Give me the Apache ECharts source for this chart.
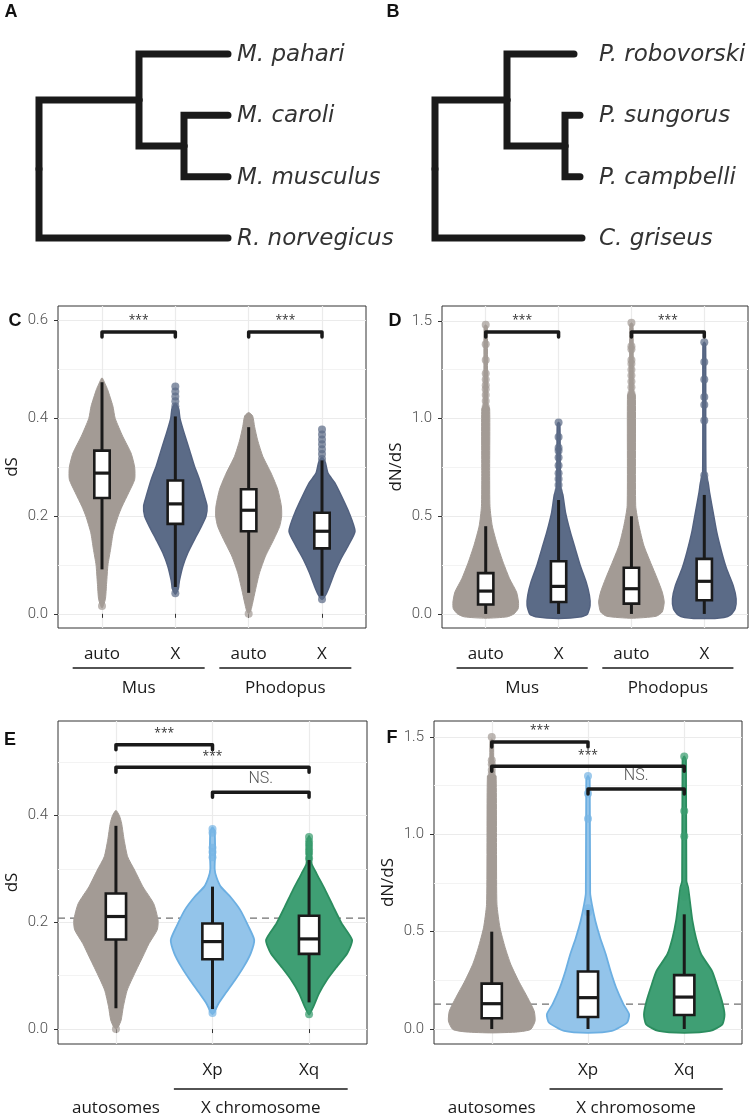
<!DOCTYPE html>
<html>
<head>
<meta charset="utf-8">
<script src="https://cdn.jsdelivr.net/npm/echarts@6/dist/echarts.min.js"></script>
<style>
  html, body { margin: 0; padding: 0; background: #fff; }
  #chart { width: 750px; height: 1119px; }
</style>
</head>
<body>
<div id="chart"></div>
<script>
// ---------- data ----------
// trees: relative branch lengths
const treeMus = { len: 0, children: [
  { len: 100, children: [
    { name: 'M. pahari', len: 89 },
    { len: 45, children: [{ name: 'M. caroli', len: 44 }, { name: 'M. musculus', len: 44 }] }
  ] },
  { name: 'R. norvegicus', len: 189 }
] }
const treePhodopus = { len: 0, children: [
  { len: 72, children: [
    { name: 'P. robovorski', len: 67 },
    { len: 58, children: [{ name: 'P. sungorus', len: 15 }, { name: 'P. campbelli', len: 15 }] }
  ] },
  { name: 'C. griseus', len: 147 }
] }

// panels C / D : species x chromosome
const catCD = ['auto', 'X', 'auto', 'X']
const groupsCD = [['Mus', 1, 2], ['Phodopus', 3, 4]]
// panels E / F : autosomes vs X arms
const catEF = ['', 'Xp', 'Xq']
const groupsEF = [['autosomes', 1, 1], ['X chromosome', 2, 3]]

const yTicksC = [0, 0.2, 0.4, 0.6]
const yTicksD = [0, 0.5, 1.0, 1.5]
const yTicksE = [0, 0.2, 0.4]
const yTicksF = [0, 0.5, 1.0, 1.5]

// violin profiles: [value, relative density]
const violinC = [
  [[0.483, 0], [0.47, 0.1], [0.459, 0.17], [0.425, 0.33], [0.40, 0.40], [0.363, 0.63], [0.329, 0.88], [0.30, 0.99], [0.275, 0.99], [0.248, 0.81], [0.22, 0.61], [0.20, 0.49], [0.166, 0.34], [0.132, 0.26], [0.10, 0.18], [0.063, 0.14], [0.029, 0.1], [0.012, 0]],
  [[0.43, 0], [0.42, 0.1], [0.40, 0.14], [0.369, 0.27], [0.335, 0.43], [0.302, 0.58], [0.275, 0.73], [0.241, 0.88], [0.221, 0.96], [0.20, 0.93], [0.179, 0.79], [0.152, 0.58], [0.125, 0.38], [0.098, 0.23], [0.07, 0.13], [0.05, 0.08], [0.04, 0]],
  [[0.412, 0], [0.405, 0.12], [0.383, 0.18], [0.356, 0.27], [0.322, 0.43], [0.288, 0.68], [0.255, 0.88], [0.221, 0.99], [0.20, 1.0], [0.179, 0.94], [0.152, 0.76], [0.118, 0.51], [0.084, 0.33], [0.05, 0.21], [0.022, 0.12], [0.008, 0.07], [0.0, 0]],
  [[0.32, 0], [0.31, 0.1], [0.288, 0.18], [0.268, 0.39], [0.241, 0.59], [0.207, 0.82], [0.169, 1.0], [0.139, 0.79], [0.111, 0.56], [0.084, 0.38], [0.057, 0.23], [0.04, 0.12], [0.03, 0]]
]
const violinD = [
  [[1.48, 0], [1.47, 0.05], [1.07, 0.06], [1.05, 0.12], [0.72, 0.12], [0.55, 0.13], [0.45, 0.20], [0.35, 0.36], [0.265, 0.53], [0.18, 0.73], [0.112, 0.94], [0.061, 1.0], [0.027, 0.99], [0.0, 0.86], [-0.015, 0.65], [-0.022, 0]],
  [[0.98, 0], [0.97, 0.04], [0.65, 0.06], [0.61, 0.13], [0.52, 0.21], [0.418, 0.36], [0.333, 0.51], [0.248, 0.66], [0.163, 0.84], [0.095, 0.94], [0.044, 0.96], [0.0, 0.88], [-0.015, 0.7], [-0.024, 0]],
  [[1.49, 0], [1.48, 0.05], [1.14, 0.06], [1.12, 0.12], [0.554, 0.13], [0.452, 0.23], [0.35, 0.38], [0.265, 0.58], [0.18, 0.79], [0.112, 0.94], [0.061, 1.0], [0.01, 0.94], [-0.012, 0.75], [-0.022, 0]],
  [[1.39, 0], [1.38, 0.04], [0.72, 0.05], [0.67, 0.12], [0.622, 0.16], [0.52, 0.27], [0.418, 0.38], [0.316, 0.53], [0.231, 0.68], [0.146, 0.88], [0.078, 0.97], [0.027, 0.94], [-0.005, 0.8], [-0.018, 0.6], [-0.024, 0]]
]
const violinE = [
  [[0.41, 0], [0.40, 0.08], [0.386, 0.13], [0.354, 0.19], [0.323, 0.27], [0.298, 0.43], [0.267, 0.62], [0.235, 0.87], [0.204, 0.97], [0.186, 0.95], [0.16, 0.76], [0.136, 0.62], [0.104, 0.43], [0.073, 0.26], [0.042, 0.17], [0.017, 0.12], [0.005, 0.06], [0.0, 0]],
  [[0.378, 0], [0.37, 0.05], [0.33, 0.06], [0.30, 0.05], [0.285, 0.09], [0.267, 0.19], [0.248, 0.41], [0.223, 0.64], [0.192, 0.83], [0.167, 0.96], [0.142, 0.88], [0.117, 0.72], [0.092, 0.52], [0.067, 0.30], [0.048, 0.14], [0.035, 0.06], [0.028, 0]],
  [[0.362, 0], [0.35, 0.05], [0.31, 0.06], [0.292, 0.17], [0.261, 0.37], [0.229, 0.56], [0.198, 0.75], [0.167, 0.99], [0.142, 0.88], [0.117, 0.64], [0.092, 0.41], [0.067, 0.23], [0.042, 0.10], [0.027, 0]]
]
const violinF = [
  [[1.49, 0], [1.48, 0.04], [1.31, 0.05], [1.30, 0.1], [0.897, 0.11], [0.64, 0.12], [0.52, 0.19], [0.418, 0.31], [0.332, 0.44], [0.247, 0.62], [0.161, 0.83], [0.092, 0.98], [0.041, 1.0], [-0.002, 0.9], [-0.015, 0.6], [-0.02, 0]],
  [[1.30, 0], [1.28, 0.04], [0.70, 0.05], [0.64, 0.09], [0.555, 0.17], [0.469, 0.28], [0.384, 0.41], [0.298, 0.52], [0.212, 0.65], [0.127, 0.82], [0.075, 0.95], [0.033, 0.9], [-0.01, 0.55], [-0.02, 0]],
  [[1.40, 0], [1.38, 0.04], [0.76, 0.05], [0.726, 0.09], [0.64, 0.14], [0.555, 0.19], [0.469, 0.27], [0.384, 0.39], [0.298, 0.64], [0.229, 0.75], [0.144, 0.87], [0.075, 0.93], [0.024, 0.88], [-0.01, 0.6], [-0.02, 0]]
]

// boxes: [whisker low, q1, median, q3, whisker high]
const boxC = [[0.091, 0.237, 0.288, 0.334, 0.474], [0.055, 0.184, 0.225, 0.273, 0.404], [0.043, 0.169, 0.212, 0.255, 0.382], [0.037, 0.134, 0.169, 0.207, 0.314]]
const boxD = [[0, 0.048, 0.117, 0.209, 0.449], [0, 0.061, 0.141, 0.27, 0.583], [0, 0.053, 0.129, 0.236, 0.5], [0, 0.07, 0.167, 0.282, 0.609]]
const boxE = [[0.039, 0.168, 0.211, 0.254, 0.381], [0.0375, 0.131, 0.164, 0.198, 0.267], [0.05, 0.141, 0.169, 0.2125, 0.317]]
const boxF = [[0, 0.055, 0.13, 0.233, 0.5], [0, 0.062, 0.161, 0.295, 0.611], [0, 0.072, 0.164, 0.277, 0.589]]

// separate points in the tails
const dotsC = [[0.016], [0.465, 0.455, 0.445, 0.435, 0.425, 0.415, 0.055, 0.042], [0.0], [0.377, 0.367, 0.357, 0.347, 0.337, 0.327, 0.317, 0.03]]
const dotsD = [
  [1.48, 1.38, 1.30, 1.23, 1.20, 1.17, 1.15, 1.12, 1.09, 1.06],
  [0.98, 0.905, 0.85, 0.835, 0.80, 0.76, 0.72, 0.69, 0.66, 0.63, 0.61],
  [1.49, 1.37, 1.355, 1.30, 1.28, 1.25, 1.22, 1.19, 1.16, 1.13],
  [1.39, 1.29, 1.20, 1.11, 1.07, 0.99, 0.71, 0.69, 0.67, 0.65]
]
const dotsE = [[0.0], [0.375, 0.368, 0.34, 0.332, 0.322, 0.036, 0.03], [0.36, 0.352, 0.345, 0.337, 0.33, 0.32, 0.028]]
const dotsF = [[1.50, 1.38, 1.36, 1.33, 1.31], [1.30, 1.21, 1.08, 0.62, 0.60], [1.40, 1.12, 0.99, 0.72, 0.70, 0.68]]

// significance brackets: [from, to, height, label]
const sigC = [[1, 2, 0.577, '***'], [3, 4, 0.577, '***']]
const sigD = [[1, 2, 1.443, '***'], [3, 4, 1.443, '***']]
const sigE = [[1, 2, 0.533, '***'], [1, 3, 0.491, '***'], [2, 3, 0.444, 'NS.']]
const sigF = [[1, 2, 1.474, '***'], [1, 3, 1.35, '***'], [2, 3, 1.233, 'NS.']]

// dashed reference (autosome median)
const refE = 0.208
const refF = 0.128

// ---------- styles ----------
const INK = '#1a1a1a'
const VIOLIN_HALF = 0.45
const BOX_HALF = 0.105
const palette = {
  gray: { fill: '#a39b95', stroke: '#a39b95', lw: 1, dot: '#a39b95' },
  slate: { fill: '#5b6b87', stroke: '#536280', lw: 1.5, dot: '#5b6b87' },
  blue: { fill: '#93c4ea', stroke: '#6cafe2', lw: 1.8, dot: '#78b6e5' },
  green: { fill: '#3f9f74', stroke: '#2b8d5f', lw: 1.8, dot: '#3a9c6f' }
}

const panels = [
  { grid: { left: 58, top: 306, width: 308, height: 322 }, y: [-0.029, 0.63], ticks: yTicksC, name: 'dS',
    cats: catCD, groups: groupsCD, colors: ['gray', 'slate', 'gray', 'slate'],
    violins: violinC, boxes: boxC, dots: dotsC, sig: sigC, ref: null, lineOff: 40, textOff: 60 },
  { grid: { left: 442, top: 306, width: 306, height: 322 }, y: [-0.072, 1.576], ticks: yTicksD, name: 'dN/dS',
    cats: catCD, groups: groupsCD, colors: ['gray', 'slate', 'gray', 'slate'],
    violins: violinD, boxes: boxD, dots: dotsD, sig: sigD, ref: null, lineOff: 40, textOff: 60 },
  { grid: { left: 58, top: 721, width: 309, height: 323 }, y: [-0.028, 0.5775], ticks: yTicksE, name: 'dS',
    cats: catEF, groups: groupsEF, colors: ['gray', 'blue', 'green'],
    violins: violinE, boxes: boxE, dots: dotsE, sig: sigE, ref: refE, lineOff: 45, textOff: 64 },
  { grid: { left: 434, top: 721, width: 308, height: 323 }, y: [-0.077, 1.582], ticks: yTicksF, name: 'dN/dS',
    cats: catEF, groups: groupsEF, colors: ['gray', 'blue', 'green'],
    violins: violinF, boxes: boxF, dots: dotsF, sig: sigF, ref: refF, lineOff: 45, textOff: 64 }
]

// ---------- trees ----------
function layoutTree(root) {
  const edges = []
  const leaves = []
  let leafIdx = 0
  function walk(node, x0) {
    const x = x0 + node.len
    if (!node.children) {
      const y = leafIdx++
      leaves.push({ x, y, name: node.name })
      return { x, y }
    }
    const kids = node.children.map(c => walk(c, x))
    const y = (kids[0].y + kids[kids.length - 1].y) / 2
    kids.forEach(k => edges.push([x, y, k.x, k.y]))
    return { x, y }
  }
  walk(root, 0)
  return { edges, leaves }
}

const grids = []
const xAxes = []
const yAxes = []
const series = []

function addTree(tree, rect, labelGap) {
  const idx = grids.length
  const { edges, leaves } = layoutTree(tree)
  const maxX = Math.max(...leaves.map(l => l.x))
  grids.push(Object.assign({ show: false }, rect))
  xAxes.push({ type: 'value', gridIndex: idx, min: 0, max: maxX, show: false })
  yAxes.push({ type: 'value', gridIndex: idx, min: 0, max: leaves.length - 1, inverse: true, show: false })
  series.push({
    type: 'custom', xAxisIndex: idx, yAxisIndex: idx, data: edges, silent: true,
    renderItem: (params, api) => {
      const a = api.coord([api.value(0), api.value(1)])
      const c = api.coord([api.value(2), api.value(3)])
      return {
        type: 'polyline',
        shape: { points: [a, [a[0], c[1]], c] },
        style: { stroke: INK, lineWidth: 7, lineCap: 'round', lineJoin: 'miter', fill: null }
      }
    }
  })
  series.push({
    type: 'custom', xAxisIndex: idx, yAxisIndex: idx, silent: true,
    data: leaves.map(l => [maxX, l.y]),
    renderItem: (params, api) => {
      const p = api.coord([api.value(0), api.value(1)])
      return {
        type: 'text', x: p[0] + labelGap, y: p[1] + 1,
        style: { text: leaves[params.dataIndex].name, fill: '#333', fontSize: 23, fontStyle: 'italic',
          fontFamily: 'DejaVu Sans', align: 'left', verticalAlign: 'middle' }
      }
    }
  })
}

addTree(treeMus, { left: 39, top: 54, width: 189, height: 184 }, 9)
addTree(treePhodopus, { left: 435, top: 54, width: 147, height: 184 }, 17)

// ---------- violin panels ----------
function addPanel(cfg) {
  const idx = grids.length
  const n = cfg.cats.length
  const xMin = 0.4
  const xMax = n + 0.6
  const catIdx = cfg.cats.map((c, i) => i + 1)
  grids.push(Object.assign({ show: true, borderColor: '#333', borderWidth: 1, backgroundColor: '#fff' }, cfg.grid))
  xAxes.push({
    type: 'value', gridIndex: idx, min: xMin, max: xMax, splitNumber: n === 4 ? 4 : 3,
    axisLine: { show: false },
    axisTick: { show: true, customValues: catIdx, length: 4, lineStyle: { color: '#333', width: 1 } },
    axisLabel: { customValues: catIdx, formatter: v => cfg.cats[Math.round(v) - 1] || '',
      margin: 18, fontSize: 17, fontFamily: 'Open Sans', color: INK },
    splitLine: { show: true, lineStyle: { color: '#ebebeb', width: 1.2 } }
  })
  yAxes.push({
    type: 'value', gridIndex: idx, min: cfg.y[0], max: cfg.y[1], splitNumber: 3,
    name: cfg.name, nameLocation: 'middle', nameGap: 37,
    nameTextStyle: { fontSize: 17, fontFamily: 'Open Sans', color: INK },
    axisLine: { show: false },
    axisTick: { show: true, customValues: cfg.ticks, length: 4, lineStyle: { color: '#333', width: 1 } },
    axisLabel: { customValues: cfg.ticks, formatter: v => v.toFixed(1), margin: 10,
      fontSize: 15, fontFamily: 'Roboto', fontWeight: 300, color: '#4d4d4d' },
    splitLine: { show: true, lineStyle: { color: '#ebebeb', width: 1.2 } },
    minorTick: { show: false, splitNumber: 2 },
    minorSplitLine: { show: true, lineStyle: { color: '#f3f3f3', width: 1 } }
  })
  const base = { xAxisIndex: idx, yAxisIndex: idx, silent: true }

  if (cfg.ref !== null) {
    series.push(Object.assign({}, base, {
      type: 'custom', z: 1, data: [[xMin, cfg.ref]],
      renderItem: (params, api) => {
        const a = api.coord([xMin, api.value(1)])
        const b = api.coord([xMax, api.value(1)])
        return { type: 'line', shape: { x1: a[0], y1: a[1], x2: b[0], y2: b[1] },
          style: { stroke: '#707070', lineWidth: 1.3, lineDash: [7, 5] } }
      }
    }))
  }

  series.push(Object.assign({}, base, {
    type: 'custom', z: 2, data: cfg.violins.map((v, i) => [i + 1, 0]),
    renderItem: (params, api) => {
      const x = api.value(0)
      const prof = cfg.violins[params.dataIndex]
      const pal = palette[cfg.colors[params.dataIndex]]
      const right = prof.map(([v, d]) => api.coord([x + d * VIOLIN_HALF, v]))
      const left = prof.slice(1, -1).map(([v, d]) => api.coord([x - d * VIOLIN_HALF, v])).reverse()
      return { type: 'polygon', shape: { points: right.concat(left), smooth: 0.2 },
        style: { fill: pal.fill, stroke: pal.stroke, lineWidth: pal.lw } }
    }
  }))

  const dotData = []
  cfg.dots.forEach((vals, i) => {
    const pal = palette[cfg.colors[i]]
    vals.forEach(v => dotData.push({ value: [i + 1, v], itemStyle: { color: pal.dot, opacity: 0.72 } }))
  })
  series.push(Object.assign({}, base, { type: 'scatter', z: 3, symbolSize: 8, data: dotData }))

  series.push(Object.assign({}, base, {
    type: 'custom', z: 4, data: cfg.boxes.map((b, i) => [i + 1].concat(b)),
    renderItem: (params, api) => {
      const x = api.value(0)
      const lo = api.value(1), q1 = api.value(2), med = api.value(3), q3 = api.value(4), hi = api.value(5)
      const pLo = api.coord([x, lo]), pHi = api.coord([x, hi])
      const a = api.coord([x - BOX_HALF, q3]), b = api.coord([x + BOX_HALF, q1])
      const m1 = api.coord([x - BOX_HALF, med]), m2 = api.coord([x + BOX_HALF, med])
      return { type: 'group', children: [
        { type: 'line', shape: { x1: pLo[0], y1: pLo[1], x2: pHi[0], y2: pHi[1] }, style: { stroke: INK, lineWidth: 3 } },
        { type: 'rect', shape: { x: a[0], y: a[1], width: b[0] - a[0], height: b[1] - a[1] },
          style: { fill: '#fff', stroke: INK, lineWidth: 2.6 } },
        { type: 'line', shape: { x1: m1[0], y1: m1[1], x2: m2[0], y2: m2[1] }, style: { stroke: INK, lineWidth: 3.2 } }
      ] }
    }
  }))

  series.push(Object.assign({}, base, {
    type: 'custom', z: 5, data: cfg.sig.map(s => [s[0], s[2], s[1]]),
    renderItem: (params, api) => {
      const a = api.coord([api.value(0), api.value(1)])
      const b = api.coord([api.value(2), api.value(1)])
      const label = cfg.sig[params.dataIndex][3]
      const ns = label === 'NS.'
      return { type: 'group', children: [
        { type: 'polyline', shape: { points: [[a[0], a[1] + 5], a, b, [b[0], b[1] + 5]] },
          style: { stroke: INK, lineWidth: 3.5, lineCap: 'round', lineJoin: 'round', fill: null } },
        { type: 'text', x: (a[0] + b[0]) / 2, y: a[1] - (ns ? 13 : 11),
          style: { text: label, fill: ns ? '#555' : '#333', fontSize: ns ? 16 : 12,
            fontFamily: ns ? 'Roboto' : 'Open Sans', fontWeight: ns ? 300 : 'normal',
            align: 'center', verticalAlign: 'middle' } }
      ] }
    }
  }))

  series.push(Object.assign({}, base, {
    type: 'custom', z: 5, data: cfg.groups.map(g => [g[1], g[2]]),
    renderItem: (params, api) => {
      const from = api.value(0), to = api.value(1)
      const bottom = api.coord([from, cfg.y[0]])[1]
      const a = api.coord([from - 0.4, cfg.y[0]])
      const b = api.coord([to + 0.4, cfg.y[0]])
      const c1 = api.coord([from, cfg.y[0]])[0], c2 = api.coord([to, cfg.y[0]])[0]
      const children = [
        { type: 'text', x: (c1 + c2) / 2, y: bottom + cfg.textOff,
          style: { text: cfg.groups[params.dataIndex][0], fill: INK, fontSize: 17, fontFamily: 'Open Sans',
            align: 'center', verticalAlign: 'middle' } }
      ]
      if (to > from) {
        children.push({ type: 'line', shape: { x1: a[0], y1: bottom + cfg.lineOff, x2: b[0], y2: bottom + cfg.lineOff },
          style: { stroke: INK, lineWidth: 1.5 } })
      }
      return { type: 'group', children }
    }
  }))
}

panels.forEach(addPanel)

// panel letters
const letters = [['A', 11, 12], ['B', 393, 12], ['C', 15, 321], ['D', 395, 321], ['E', 10, 740], ['F', 392, 738]]

const chart = echarts.init(document.getElementById('chart'))
chart.setOption({
  animation: false,
  backgroundColor: '#fff',
  grid: grids,
  xAxis: xAxes,
  yAxis: yAxes,
  series: series,
  graphic: letters.map(l => ({
    type: 'text', x: l[1], y: l[2],
    style: { text: l[0], fill: '#111', fontSize: 18, fontWeight: 'bold', fontFamily: 'Liberation Sans',
      align: 'center', verticalAlign: 'middle' }
  }))
})
</script>
</body>
</html>
